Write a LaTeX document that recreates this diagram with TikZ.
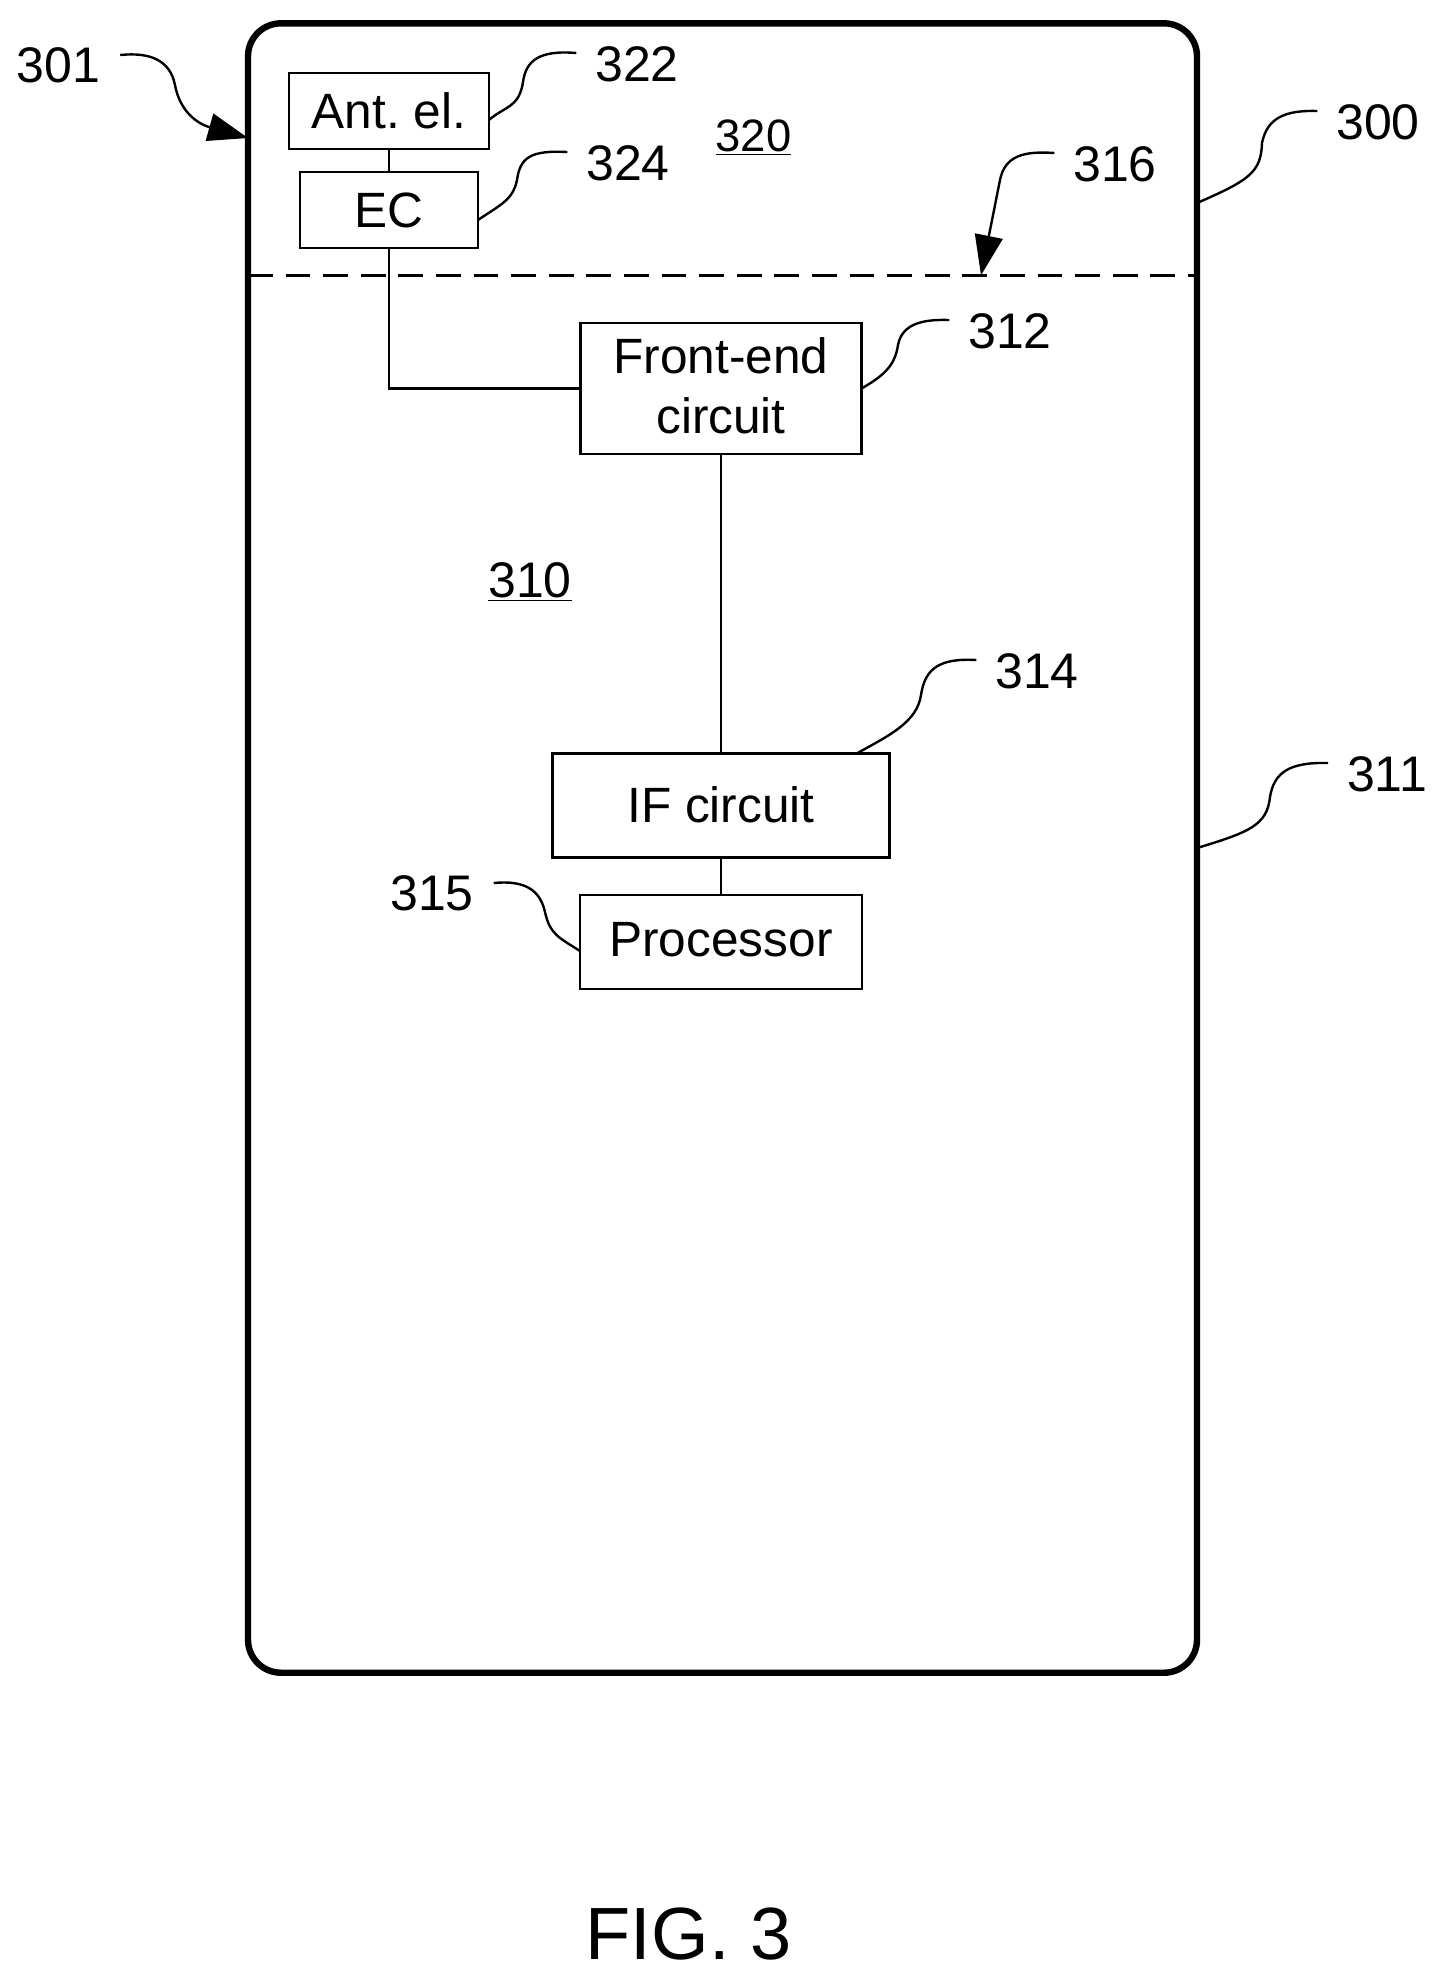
\documentclass[tikz,border=0pt]{standalone}
\usepackage{fontspec}
\setmainfont{Liberation Sans}
\usetikzlibrary{arrows.meta}
\tikzset{
  device/.style={draw,line width=3.2pt,rounded corners=16.5pt,minimum width=474.5pt,minimum height=824.7pt,outer sep=0pt},
  block/.style={draw,line width=1.3pt,inner sep=0pt,outer sep=0pt,align=center,font=\fontsize{24.8}{30}\selectfont},
  reflabel/.style={inner sep=0pt,outer sep=0pt,font=\fontsize{25}{30}\selectfont},
  wire/.style={line width=1.1pt},
  leader/.style={line width=1.2pt},
  tipped/.style={leader,-{Triangle[length=20pt,width=14pt]}},
  boundary/.style={line width=1.6pt,dash pattern=on 12.4pt off 6.4pt},
}
\begin{document}
\frenchspacing
\begin{tikzpicture}[x=.5pt,y=-.5pt]
\useasboundingbox (0,0) rectangle (1440,1983);
% Device outline
\node[device] (device) at (722.5,848) {};
% Blocks
\node[block,minimum width=100pt,minimum height=38pt] (antel) at (389,111) {Ant. el.};
\node[block,minimum width=89pt,minimum height=38pt] (ec) at (389,210) {EC};
\node[block,minimum width=140.5pt,minimum height=65.5pt,text depth=2.5pt] (frontend) at (721,388.5) {Front-end\\circuit};
\node[block,minimum width=168.5pt,minimum height=52pt,text depth=1pt] (ifcirc) at (721,805.3) {IF circuit};
\node[block,minimum width=141pt,minimum height=47pt,text depth=2.5pt] (proc) at (721,942) {Processor};
% Wires
\draw[wire] (antel) -- (ec);
\draw[wire] (ec.south) |- (frontend.west);
\draw[wire] (frontend.south) -- (ifcirc.north);
\draw[wire] (ifcirc.south) -- (proc.north);
% Boundary between the two regions
\coordinate (bnd) at (981,275.3);
\draw[boundary] (device.west |- bnd) -- (device.east |- bnd);
% Reference numerals
\node[reflabel] (l322) at (637,64) {322};
\node[reflabel] (l324) at (628,163) {324};
\node[reflabel] (l316) at (1115,164) {316};
\node[reflabel] (l300) at (1378,122) {300};
\node[reflabel] (l312) at (1010,331) {312};
\node[reflabel] (l314) at (1037,671) {314};
\node[reflabel] (l311) at (1387,774) {311};
\node[reflabel] (l301) at (58.5,65) {301};
\node[reflabel] (l315) at (432,893) {315};
\node[reflabel,anchor=base,font=\fontsize{22.7}{28}\selectfont] (l320) at (753.5,151) {\underline{320}};
\node[reflabel,anchor=base] (l310) at (530,597) {\underline{310}};
\node[reflabel,font=\fontsize{37}{44}\selectfont] (fig) at (688.5,1934) {FIG. 3};
% Free ends of the leaders
\foreach \n in {322,324,316,300,312,314,311}
  \coordinate (t\n) at ([xshift=-9.5pt,yshift=5.5pt]l\n.west);
\foreach \n in {301,315}
  \coordinate (t\n) at ([xshift=10pt,yshift=5pt]l\n.east);
% Leaders
\draw[leader] (t322) .. controls (540,50) and (526,60) .. (523,82) .. controls (519,108) and (505,106) .. ([yshift=-4.5pt]antel.east);
\draw[leader] (t324) .. controls (530,150) and (520,158) .. (517,180) .. controls (513,200) and (500,205) .. ([yshift=-5pt]ec.east);
\draw[leader] (t312) .. controls (920,319) and (902,325) .. (898,345) .. controls (895,365) and (885,375) .. (frontend.east);
\draw[leader] (t314) .. controls (940,658) and (925,668) .. (921,695) .. controls (917,722) and (890,735) .. ([xshift=68pt]ifcirc.north);
\draw[leader] (t315) .. controls (525,880) and (540,890) .. (545,912) .. controls (550,935) and (560,938) .. ([yshift=-4.5pt]proc.west);
\draw[leader] (t300) .. controls (1285,110) and (1267,118) .. (1262,143) .. controls (1261,172) and (1250,180) .. ([yshift=322.5pt]device.east);
\draw[leader] (t311) .. controls (1290,762) and (1274,772) .. (1270,797) .. controls (1267,825) and (1250,832) .. (device.east);
% Arrowed leaders
\draw[tipped] (t301) .. controls (150,52) and (170,60) .. (175,85) .. controls (180,112) and (198,124) .. ([yshift=355pt]device.west);
\draw[tipped] (t316) .. controls (1025,151) and (1005,155) .. (1000,180) -- (bnd);
\end{tikzpicture}
\end{document}
